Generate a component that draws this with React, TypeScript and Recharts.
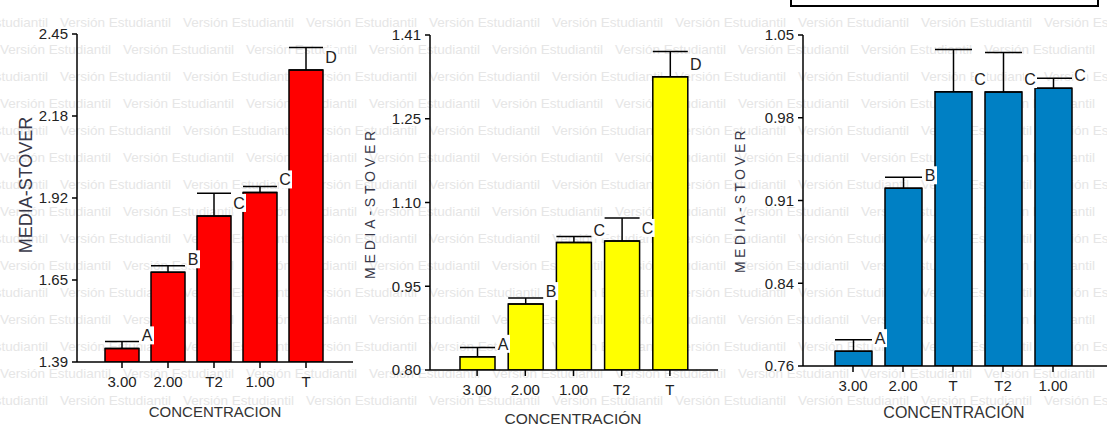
import { BarChart, Bar, XAxis, YAxis, ErrorBar, LabelList } from "recharts";

// panel 1 (red)
const cats1 = ["3.00", "2.00", "T2", "1.00", "T"];
const mean1 = [1.434, 1.68, 1.862, 1.938, 2.334];
const err1 = [0.022, 0.021, 0.073, 0.019, 0.072];
const letters1 = ["A", "B", "C", "C", "D"];
const ticks1 = [1.39, 1.655, 1.92, 2.185, 2.45];
const tickLabels1 = ["1.39", "1.65", "1.92", "2.18", "2.45"];

// panel 2 (yellow)
const cats2 = ["3.00", "2.00", "1.00", "T2", "T"];
const mean2 = [0.824, 0.92, 1.032, 1.035, 1.334];
const err2 = [0.017, 0.011, 0.011, 0.042, 0.046];
const letters2 = ["A", "B", "C", "C", "D"];
const ticks2 = [0.8, 0.9525, 1.105, 1.2575, 1.41];
const tickLabels2 = ["0.80", "0.95", "1.10", "1.25", "1.41"];

// panel 3 (blue)
const cats3 = ["3.00", "2.00", "T", "T2", "1.00"];
const mean3 = [0.773, 0.9157, 1.0003, 1.0, 1.0033];
const err3 = [0.01, 0.0097, 0.037, 0.0346, 0.0088];
const letters3 = ["A", "B", "C", "C", "C"];
const ticks3 = [0.76, 0.8325, 0.905, 0.9775, 1.05];
const tickLabels3 = ["0.76", "0.84", "0.91", "0.98", "1.05"];

const sans = "'Liberation Sans', Arial, sans-serif";
const watermark = "Versión Estudiantil";

const buildRows = (cats: string[], means: number[], errs: number[], letters: string[]) =>
  cats.map((c, i) => ({ name: c, mean: means[i], err: [0, errs[i]], letter: letters[i] }));

const LetterTag = (props: any) => {
  const { x, y, width, value } = props;
  const cx = x + width + 8;
  const cy = y - 13;
  return (
    <g>
      <rect x={cx - 6} y={cy - 9} width={13} height={18} fill="#fff" />
      <text x={cx} y={cy + 6} textAnchor="middle" fontSize={16} fontFamily={sans} fill="#222">
        {value}
      </text>
    </g>
  );
};

type PanelProps = {
  left: number;
  width: number;
  margin: { top: number; right: number; bottom: number; left: number };
  pad: { left: number; right: number };
  barSize: number;
  color: string;
  rows: any[];
  ticks: number[];
  tickLabels: string[];
};

const Panel = ({ left, width, margin, pad, barSize, color, rows, ticks, tickLabels }: PanelProps) => (
  <div style={{ position: "absolute", left, top: 0 }}>
    <BarChart width={width} height={425} data={rows} margin={margin}>
      <XAxis
        dataKey="name"
        padding={pad}
        interval={0}
        height={30}
        tickSize={6}
        tickMargin={8}
        axisLine={{ stroke: "#000", strokeWidth: 1.5 }}
        tickLine={{ stroke: "#000", strokeWidth: 1.5 }}
        tick={{ fill: "#222", fontSize: 15, fontFamily: sans }}
      />
      <YAxis
        type="number"
        width={40}
        domain={[ticks[0], ticks[ticks.length - 1]]}
        ticks={ticks}
        allowDataOverflow
        tickFormatter={(v: number, i: number) => tickLabels[i] ?? v.toFixed(2)}
        tickSize={5}
        tickMargin={4}
        axisLine={{ stroke: "#000", strokeWidth: 1.5 }}
        tickLine={{ stroke: "#000", strokeWidth: 1.5 }}
        tick={{ fill: "#222", fontSize: 15, fontFamily: sans }}
      />
      <Bar dataKey="mean" fill={color} stroke="#000" strokeWidth={1.5} barSize={barSize} isAnimationActive={false}>
        <ErrorBar dataKey="err" direction="y" width={barSize / 2} stroke="#000" strokeWidth={1.5} />
        <LabelList dataKey="letter" content={LetterTag} />
      </Bar>
    </BarChart>
  </div>
);

const Title = ({ x, y, text, rotate, size, spacing, color }: any) => (
  <div
    style={{
      position: "absolute",
      left: x,
      top: y,
      transform: `translate(-50%, -50%)${rotate ? " rotate(-90deg)" : ""}`,
      whiteSpace: "nowrap",
      fontFamily: sans,
      fontSize: size,
      letterSpacing: spacing,
      color,
      lineHeight: 1,
    }}
  >
    {text}
  </div>
);

// watermark rows / columns (background of the student-version export)
const wmRows = [0, 1, 2, 3, 4, 5, 6, 7, 8, 9, 10, 11, 12, 13, 14, 15];
const wmCols = [-1, 0, 1, 2, 3, 4, 5, 6, 7, 8, 9];

export default function App() {
  return (
    <div
      style={{
        position: "absolute",
        left: 0,
        top: 0,
        width: 1107,
        height: 425,
        overflow: "hidden",
        background: "#fff",
      }}
    >
      {wmRows.map((r) =>
        wmCols.map((k) => (
          <div
            key={`${r}-${k}`}
            style={{
              position: "absolute",
              top: -4 + r * 27 - 8,
              left: (r % 2 === 0 ? 0 : 60) + k * 123,
              whiteSpace: "nowrap",
              color: "#e6e6e6",
              fontSize: 13.5,
              lineHeight: "16px",
              fontFamily: sans,
            }}
          >
            {watermark}
          </div>
        ))
      )}

      <div
        style={{
          position: "absolute",
          left: 790,
          top: -4,
          width: 305,
          height: 7,
          border: "2px solid #000",
          background: "#fff",
        }}
      />

      <Panel
        left={0}
        width={360}
        margin={{ top: 34, right: 7, bottom: 33, left: 37 }}
        pad={{ left: 22, right: 24 }}
        barSize={34}
        color="#ff0000"
        rows={buildRows(cats1, mean1, err1, letters1)}
        ticks={ticks1}
        tickLabels={tickLabels1}
      />
      <Panel
        left={360}
        width={365}
        margin={{ top: 35, right: 7, bottom: 25, left: 30 }}
        pad={{ left: 23, right: 24 }}
        barSize={35}
        color="#ffff00"
        rows={buildRows(cats2, mean2, err2, letters2)}
        ticks={ticks2}
        tickLabels={tickLabels2}
      />
      <Panel
        left={725}
        width={382}
        margin={{ top: 35, right: 0, bottom: 29, left: 38 }}
        pad={{ left: 25, right: 29 }}
        barSize={37}
        color="#0080c4"
        rows={buildRows(cats3, mean3, err3, letters3)}
        ticks={ticks3}
        tickLabels={tickLabels3}
      />

      <Title x={26} y={185} text="MEDIA-STOVER" rotate size={18} spacing={0} color="#383848" />
      <Title x={370} y={203} text="MEDIA-STOVER" rotate size={14} spacing={3.8} color="#383848" />
      <Title x={740} y={200} text="MEDIA-STOVER" rotate size={14} spacing={3.3} color="#383848" />

      <Title x={215} y={411} text="CONCENTRACION" size={15} spacing={0} color="#333" />
      <Title x={573} y={419} text="CONCENTRACIÓN" size={15.5} spacing={0} color="#333" />
      <Title x={954} y={413} text="CONCENTRACIÓN" size={16} spacing={0} color="#333" />
    </div>
  );
}
